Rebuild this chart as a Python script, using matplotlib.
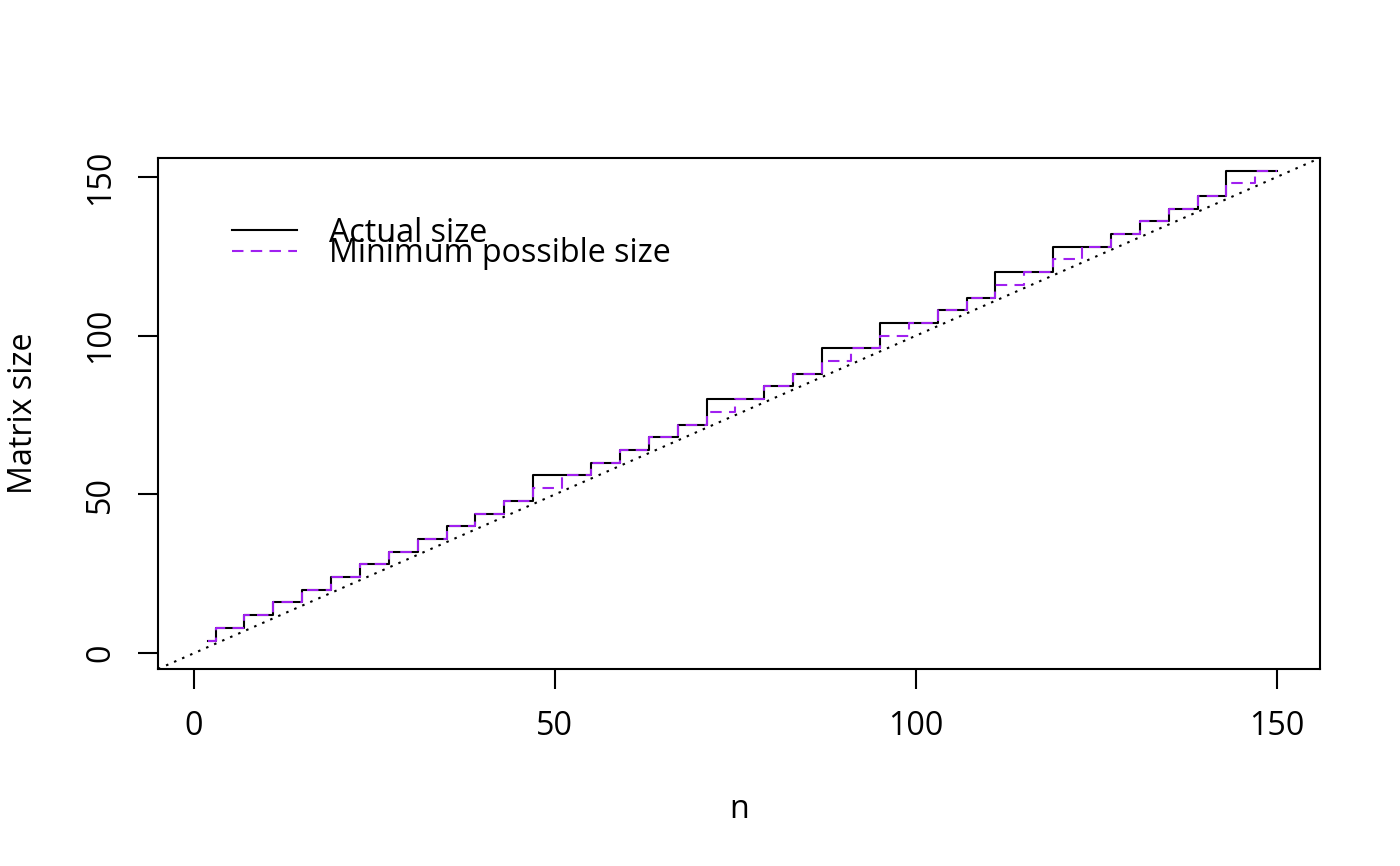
import matplotlib
matplotlib.use("Agg")
import matplotlib.pyplot as plt

plt.rcParams["font.family"] = ["Open Sans", "DejaVu Sans"]
plt.rcParams["font.size"] = 11.6

# Step points (n where size changes)
actual_n = [2, 3, 7, 11, 15, 19, 23, 27, 31, 35, 39, 43, 47, 55, 59, 63, 67,
            71, 79, 83, 87, 95, 103, 107, 111, 119, 127, 131, 135, 139, 143, 150]
actual_size = [4, 8, 12, 16, 20, 24, 28, 32, 36, 40, 44, 48, 56, 60, 64, 68, 72,
               80, 84, 88, 96, 104, 108, 112, 120, 128, 132, 136, 140, 144, 152, 152]

min_n = [2, 3, 7, 11, 15, 19, 23, 27, 31, 35, 39, 43, 47, 51, 55, 59, 63, 67,
         71, 75, 79, 83, 87, 91, 95, 99, 103, 107, 111, 115, 119, 123, 127,
         131, 135, 139, 143, 147, 150]
min_size = [4, 8, 12, 16, 20, 24, 28, 32, 36, 40, 44, 48, 52, 56, 60, 64, 68, 72,
            76, 80, 84, 88, 92, 96, 100, 104, 108, 112, 116, 120, 124, 128, 132,
            136, 140, 144, 148, 152, 152]

x_ticks = [0, 50, 100, 150]
y_ticks = [0, 50, 100, 150]
purple = "#A020F0"

fig = plt.figure(figsize=(7, 4.33), dpi=200)
ax = fig.add_axes([0.1129, 0.2275, 0.83, 0.5901])

# y = x reference line
ax.axline((0, 0), slope=1, color="black", lw=0.75, dashes=(1.2, 3))
ax.step(actual_n, actual_size, where="post", color="black", lw=0.75,
        label="Actual size")
ax.step(min_n, min_size, where="post", color=purple, lw=0.75,
        dashes=(5.5, 3.5), label="Minimum possible size")

ax.set_xlim(-4.96, 155.96)
ax.set_ylim(-4.96, 155.96)
ax.set_xticks(x_ticks)
ax.set_yticks(y_ticks)
ax.set_yticklabels([str(v) for v in y_ticks], rotation=90, va="center")
ax.tick_params(length=7.2, width=0.75, pad=7.5)
for s in ax.spines.values():
    s.set_linewidth(0.75)

ax.set_xlabel("n", labelpad=18)
ax.set_ylabel("Matrix size", labelpad=16)

ax.legend(loc="upper left", bbox_to_anchor=(0.064, 0.885), frameon=False,
          borderpad=0, borderaxespad=0, handlelength=2.0, handletextpad=1.0,
          labelspacing=-0.38)

fig.savefig("out.png", dpi=200)
